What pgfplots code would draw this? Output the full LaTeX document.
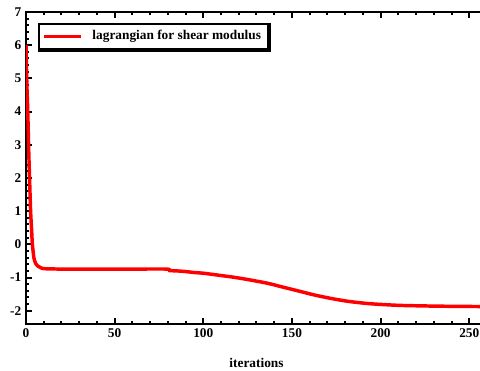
\documentclass[border=0pt]{standalone}
\usepackage{fontspec}
\setmainfont{Liberation Serif}
\usepackage{pgfplots}
\pgfplotsset{compat=1.18}
\begin{document}
\begin{tikzpicture}
\begin{axis}[
  at={(0,0)}, anchor=south west,
  scale only axis,
  width=345.75pt, height=234pt,
  xmin=0, xmax=260, ymin=-2.4, ymax=7,
  xtick={0,50,100,150,200,250},
  ytick={-2,-1,0,1,2,3,4,5,6,7},
  minor x tick num=4, minor y tick num=4,
  tick align=inside, tick pos=both,
  axis line style={line width=2pt},
  major tick style={line width=1.5pt, black},
  minor tick style={line width=1.5pt, black},
  major tick length=4.5pt, minor tick length=2.4pt,
  /pgf/number format/assume math mode=true,
  ticklabel style={font=\fontsize{10}{12}\selectfont\bfseries},
  xlabel={iterations},
  xlabel style={at={(axis description cs:0.5,-0.125)}, anchor=center, font=\fontsize{10}{12}\selectfont\bfseries},
  legend style={name=leg, at={(0.026,0.965)}, anchor=north west, draw=black, line width=1.5pt,
    font=\fontsize{10}{12}\selectfont\bfseries, inner xsep=3pt, inner ysep=3pt},
  legend cell align=left,
  legend image code/.code={\draw[#1, line width=2.2pt] (0.15cm,0cm) -- (1.12cm,0cm); \path (1.3cm,0cm);},
]
\addplot[red, line width=2.6pt, smooth, tension=0.4] coordinates {
(0,6.0) (0.5,4.8) (1,4.0) (1.5,2.9) (2,2.0) (2.6,1.0) (3.2,0.4) (3.6,0)
(4.5,-0.42) (5.5,-0.58) (6.8,-0.66) (8.5,-0.71) (10.7,-0.735) (20,-0.745)
(40,-0.745) (60,-0.745) (79.5,-0.745) (81,-0.79) (85,-0.8) (90,-0.82)
(95,-0.85) (100,-0.87) (110,-0.94) (117,-0.99) (125,-1.06) (136,-1.17)
(145,-1.29) (154,-1.41) (163,-1.53) (173,-1.64) (182,-1.72) (192,-1.78)
(200,-1.81) (211,-1.84) (229,-1.86) (245,-1.87) (260,-1.875)
};
\addlegendentry{lagrangian for shear modulus}
\end{axis}
\draw[line width=2pt, line cap=rect] ([xshift=1pt]leg.south west) -- ([xshift=1pt,yshift=-1pt]leg.south west) -- ([xshift=1pt,yshift=-1pt]leg.south east) -- ([xshift=1pt,yshift=-1pt]leg.north east) -- ([yshift=-1pt]leg.north east);
\pgfresetboundingbox
\useasboundingbox (-19.5pt,-35.25pt) rectangle (340.5pt,243pt);
\end{tikzpicture}
\end{document}
